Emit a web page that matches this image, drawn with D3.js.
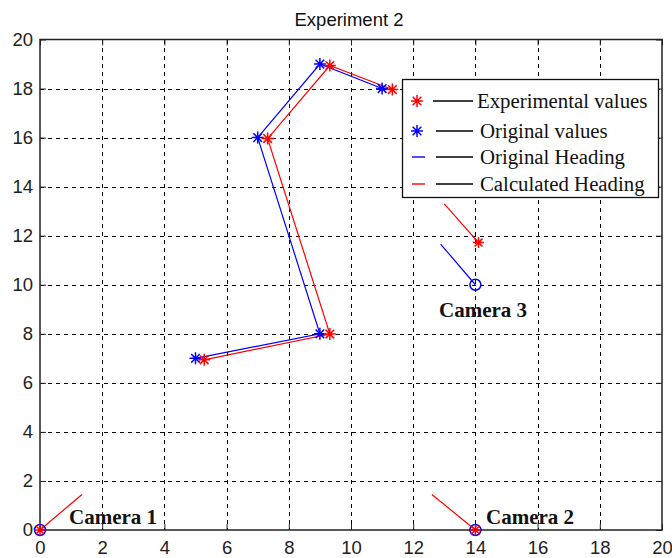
<!DOCTYPE html>
<html>
<head>
<meta charset="utf-8">
<script src="https://cdn.jsdelivr.net/npm/d3@7"></script>
<style>
  html, body { margin: 0; padding: 0; background: #fff; }
  svg { display: block; }
</style>
</head>
<body>
<script>
// Tick values for both axes
const xTicks = [0, 2, 4, 6, 8, 10, 12, 14, 16, 18, 20];
const yTicks = [0, 2, 4, 6, 8, 10, 12, 14, 16, 18, 20];

// Original (ground-truth) trajectory
const origX = [5, 9, 7, 9, 11];
const origY = [7, 8, 16, 19, 18];

// Experimental (estimated) trajectory
const expX = [5.28, 9.32, 7.32, 9.32, 11.33];
const expY = [6.94, 7.99, 15.96, 18.94, 17.96];

// Camera positions: original and estimated
const camNames = ["Camera 1", "Camera 2", "Camera 3"];
const camX = [0, 14, 14];
const camY = [0, 0, 10];
const camEstX = [0, 14, 14.1];
const camEstY = [0, 0, 11.72];

// Heading segment end points
const origHeadFrom = [2];          // camera index with a drawn original heading
const origHeadX = [12.88];
const origHeadY = [11.66];
const calcHeadX = [1.35, 12.6, 13.0];
const calcHeadY = [1.45, 1.45, 13.3];

// Legend entries
const legendLabels = ["Experimental values", "Original values", "Original Heading", "Calculated Heading"];
const legendKinds = ["star", "star", "dash", "dash"];
const legendColors = ["#ff0000", "#0000ff", "#0000ff", "#ff0000"];

const W = 672, H = 558;
const pLeft = 40, pRight = 662, pTop = 39.5, pBottom = 530;

const svg = d3.select("body").append("svg").attr("width", W).attr("height", H);

const x = d3.scaleLinear().domain([0, 20]).range([pLeft, pRight]);
const y = d3.scaleLinear().domain([0, 20]).range([pBottom, pTop]);

// Grid
const grid = svg.append("g").attr("stroke", "#000").attr("stroke-width", 1)
  .attr("stroke-dasharray", "4,4").attr("shape-rendering", "crispEdges");
grid.selectAll("line.v").data(xTicks.slice(1, -1)).join("line")
  .attr("x1", d => Math.round(x(d)) + 0.5).attr("x2", d => Math.round(x(d)) + 0.5)
  .attr("y1", pTop).attr("y2", pBottom);
grid.selectAll("line.h").data(yTicks.slice(1, -1)).join("line")
  .attr("y1", d => Math.round(y(d)) + 0.5).attr("y2", d => Math.round(y(d)) + 0.5)
  .attr("x1", pLeft).attr("x2", pRight);

// Axes with inward ticks
const tickFont = "18.5px 'Liberation Sans', Arial, sans-serif";
const axB = svg.append("g").attr("transform", `translate(0,${pBottom})`)
  .call(d3.axisBottom(x).tickValues(xTicks).tickFormat(d3.format("d")).tickSizeInner(-6).tickSizeOuter(0).tickPadding(9));
const axL = svg.append("g").attr("transform", `translate(${pLeft},0)`)
  .call(d3.axisLeft(y).tickValues(yTicks).tickFormat(d3.format("d")).tickSizeInner(-6).tickSizeOuter(0).tickPadding(7));
const axT = svg.append("g").attr("transform", `translate(0,${pTop})`)
  .call(d3.axisTop(x).tickValues(xTicks).tickFormat("").tickSizeInner(-6).tickSizeOuter(0));
const axR = svg.append("g").attr("transform", `translate(${pRight},0)`)
  .call(d3.axisRight(y).tickValues(yTicks).tickFormat("").tickSizeInner(-6).tickSizeOuter(0));
[axB, axL, axT, axR].forEach(a => {
  a.selectAll("path.domain").remove();
  a.selectAll("line").attr("stroke", "#222");
  a.selectAll("text").style("font", tickFont).attr("fill", "#222");
});
axB.selectAll("text").attr("dy", "0.8em");

// Frame
svg.append("rect").attr("x", pLeft).attr("y", pTop).attr("width", pRight - pLeft).attr("height", pBottom - pTop)
  .attr("fill", "none").attr("stroke", "#222").attr("stroke-width", 1.5);

// Title
svg.append("text").attr("x", 349).attr("y", 26).attr("text-anchor", "middle")
  .style("font", "18.5px 'Liberation Sans', Arial, sans-serif").attr("fill", "#111").text("Experiment 2");

// Heading segments
const line = d3.line().x(d => x(d[0])).y(d => y(d[1]));
origHeadFrom.forEach((ci, i) => {
  svg.append("path").attr("d", line([[camX[ci], camY[ci]], [origHeadX[i], origHeadY[i]]]))
    .attr("stroke", "#0000ff").attr("stroke-width", 1.2).attr("fill", "none");
});
calcHeadX.forEach((hx, i) => {
  svg.append("path").attr("d", line([[camEstX[i], camEstY[i]], [hx, calcHeadY[i]]]))
    .attr("stroke", "#ff0000").attr("stroke-width", 1.2).attr("fill", "none");
});

// Trajectories
const origPts = origX.map((v, i) => [v, origY[i]]);
const expPts = expX.map((v, i) => [v, expY[i]]);
svg.append("path").attr("d", line(origPts)).attr("stroke", "#0000ff").attr("stroke-width", 1.2).attr("fill", "none");
svg.append("path").attr("d", line(expPts)).attr("stroke", "#ff0000").attr("stroke-width", 1.2).attr("fill", "none");

// Star marker ('*')
function star(g, cx, cy, color, r = 6) {
  const k = r * 0.72;
  const p = `M${cx - r},${cy}H${cx + r}M${cx},${cy - r}V${cy + r}` +
            `M${cx - k},${cy - k}L${cx + k},${cy + k}M${cx - k},${cy + k}L${cx + k},${cy - k}`;
  g.append("path").attr("d", p).attr("stroke", color).attr("stroke-width", 1.5).attr("fill", "none");
}

// Camera circles
svg.selectAll("circle.cam").data(camX).join("circle")
  .attr("cx", (d, i) => x(d)).attr("cy", (d, i) => y(camY[i])).attr("r", 5.5)
  .attr("fill", "none").attr("stroke", "#0000ff").attr("stroke-width", 1.5);

const marks = svg.append("g");
origPts.forEach(p => star(marks, x(p[0]), y(p[1]), "#0000ff"));
expPts.forEach(p => star(marks, x(p[0]), y(p[1]), "#ff0000"));
camEstX.forEach((v, i) => star(marks, x(v), y(camEstY[i]), "#ff0000", 5.5));

// Camera labels
const camLabelPos = [[69, 524], [486, 524], [439, 317]];
svg.selectAll("text.cam").data(camNames).join("text")
  .attr("x", (d, i) => camLabelPos[i][0]).attr("y", (d, i) => camLabelPos[i][1])
  .style("font", "bold 21px 'Liberation Serif', 'Times New Roman', serif").attr("fill", "#111")
  .text(d => d);

// Legend
const lg = svg.append("g");
lg.append("rect").attr("x", 402.5).attr("y", 79.5).attr("width", 256).attr("height", 118)
  .attr("fill", "#fff").attr("stroke", "#111").attr("stroke-width", 1.3);
const rowY = [101, 131, 157, 184];
const lineX0 = [433, 436, 436, 436];
legendLabels.forEach((lab, i) => {
  const yy = rowY[i];
  if (legendKinds[i] === "star") star(lg, 417, yy, legendColors[i]);
  else lg.append("line").attr("x1", 412).attr("x2", 425).attr("y1", yy).attr("y2", yy)
    .attr("stroke", legendColors[i]).attr("stroke-width", 1.4);
  lg.append("line").attr("x1", lineX0[i]).attr("x2", 473).attr("y1", yy).attr("y2", yy)
    .attr("stroke", "#000").attr("stroke-width", 1.3);
  lg.append("text").attr("x", lineX0[i] === 433 ? 477 : 480).attr("y", yy + 6.5)
    .style("font", "20.8px 'Liberation Serif', 'Times New Roman', serif").attr("fill", "#111").text(lab);
});
</script>
</body>
</html>
